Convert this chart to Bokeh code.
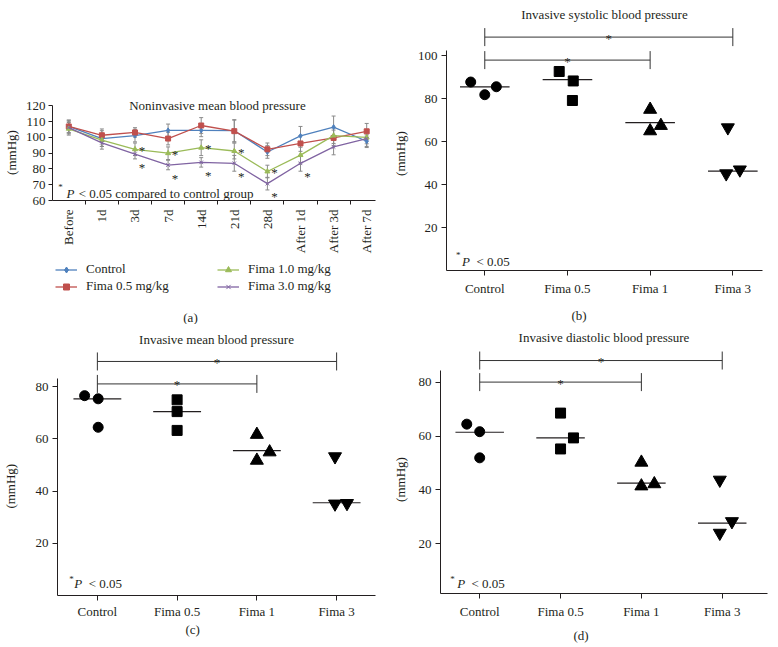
import math
from bokeh.plotting import figure
from bokeh.models import Range1d, FixedTicker, Label, Legend, LegendItem, Title
from bokeh.layouts import column, row
from bokeh.embed import file_html
from bokeh.resources import INLINE
from bokeh.core.properties import value

FONT = "Liberation Serif"
INK = "#231f20"
GREY = "#8a8a8a"
FS = "13px"
NAN = float("nan")

# ---------------- panel (a): noninvasive mean blood pressure ----------------
time_labels = ["Before", "1d", "3d", "7d", "14d", "21d", "28d", "After 1d", "After 3d", "After 7d"]
nibp_control = [107.0, 99.3, 101.2, 104.5, 104.5, 104.3, 90.8, 101.0, 106.6, 97.6]
nibp_fima05 = [107.0, 101.4, 103.2, 99.3, 107.6, 104.0, 92.5, 96.2, 99.7, 103.9]
nibp_fima10 = [105.5, 98.3, 92.5, 90.0, 93.5, 91.4, 78.4, 88.8, 101.2, 100.0]
nibp_fima30 = [106.3, 96.6, 89.4, 82.5, 84.2, 83.6, 70.7, 83.6, 94.0, 99.3]
err_control = [4, 5, 4, 4, 4, 7, 4, 6, 7, 4]
err_fima05 = [4, 4, 3, 4, 5, 7, 4, 5, 5, 5]
err_fima10 = [4, 4, 4, 4, 5, 5, 4, 5, 5, 4]
err_fima30 = [4, 4, 3, 3, 3, 5, 4, 5, 5, 5]
sig_fima10 = [0, 0, 1, 1, 1, 1, 1, 0, 0, 0]
sig_fima30 = [0, 0, 1, 1, 1, 1, 1, 1, 0, 0]
series_names = ["Control", "Fima 0.5 mg/kg", "Fima 1.0 mg/kg", "Fima 3.0 mg/kg"]
series_colors = ["#4f81bd", "#c0504d", "#9bbb59", "#8064a2"]
series_markers = ["diamond", "square", "triangle", "x"]

# ---------------- panels (b)-(d): invasive pressures ----------------
groups = ["Control", "Fima 0.5", "Fima 1", "Fima 3"]
group_markers = ["circle", "square", "triangle", "inverted_triangle"]
group_sizes = [10, 10, 13, 13]

sbp_values = [[87.7, 81.8, 85.5], [92.6, 88.2, 79.1], [74.9, 64.9, 67.4], [66.5, 45.1, 46.9]]
sbp_jitter = [[-0.17, 0.0, 0.14], [-0.10, 0.07, 0.06], [0.0, 0.0, 0.13], [-0.06, -0.08, 0.085]]
sbp_center = [85.4, 88.8, 68.8, 46.2]

mbp_values = [[76.5, 75.3, 64.4], [74.9, 70.4, 63.2], [61.6, 51.7, 54.9], [53.2, 35.1, 35.3]]
mbp_jitter = [[-0.16, 0.01, 0.01], [0.0, 0.0, 0.0], [0.0, 0.0, 0.16], [-0.02, -0.02, 0.13]]
mbp_center = [75.3, 70.4, 55.5, 35.5]

dbp_values = [[64.4, 61.6, 51.9], [68.5, 59.3, 55.2], [50.2, 41.4, 42.2], [43.7, 24.0, 28.3]]
dbp_jitter = [[-0.16, 0.0, 0.0], [0.0, 0.16, 0.0], [0.0, 0.0, 0.16], [-0.03, -0.03, 0.12]]
dbp_center = [61.4, 59.3, 42.5, 27.7]


def base(p):
    p.frame_align = False
    p.outline_line_color = None
    p.xgrid.visible = False
    p.ygrid.visible = False
    p.background_fill_color = "white"
    p.border_fill_color = "white"
    for ax in (p.xaxis, p.yaxis):
        ax.axis_line_color = INK
        ax.axis_line_width = 1
        ax.major_tick_line_color = INK
        ax.minor_tick_line_color = INK
        ax.major_tick_in = 0
        ax.minor_tick_in = 0
        ax.major_label_text_font = FONT
        ax.major_label_text_font_size = FS
        ax.major_label_text_color = INK


def lab(p, x, y, text, size=FS, align="left", baseline="alphabetic", style="normal"):
    p.add_layout(Label(x=x, y=y, text=text, text_font=FONT, text_font_size=size,
                       text_color=INK, text_align=align, text_baseline=baseline,
                       text_font_style=style))


def side_title(p, text, side, align="center", offset=0, standoff=0, valign="bottom", size=FS):
    p.add_layout(Title(text=text, align=align, offset=offset, standoff=standoff,
                       vertical_align=valign, text_font=FONT, text_font_size=size,
                       text_font_style="normal", text_color=INK), side)


def spacer(p, px, side="below"):
    side_title(p, "\u00a0", side, align="left", standoff=px, size="1px")


def y_title(p, gap, offset):
    if gap > 0:
        spacer(p, gap, "left")
    side_title(p, "(mmHg)", "left", align="left", offset=offset, standoff=0, valign="bottom")


# ---------------- panel (a) ----------------
pa = figure(width=390, height=256, x_range=Range1d(-0.492, 9.266), y_range=Range1d(60, 126),
            output_backend="svg", toolbar_location=None,
            min_border_left=52, min_border_right=15, min_border_top=96, min_border_bottom=54)
base(pa)
xs = list(range(len(time_labels)))
pa.xaxis.ticker = FixedTicker(ticks=xs, minor_ticks=[i + 0.5 for i in range(-1, len(xs))])
pa.xaxis.major_label_overrides = {i: t for i, t in enumerate(time_labels)}
pa.xaxis.major_label_orientation = math.pi / 2
pa.xaxis.major_tick_out = 0
pa.xaxis.minor_tick_out = 4
pa.xaxis.major_label_standoff = 5
pa.yaxis.ticker = FixedTicker(ticks=[60, 70, 80, 90, 100, 110, 120])
pa.yaxis.bounds = (60, 120)
pa.yaxis.major_tick_out = 4
pa.yaxis.minor_tick_line_color = None
pa.yaxis.major_label_standoff = 3
y_title(pa, 1, 25.6)

all_vals = [nibp_control, nibp_fima05, nibp_fima10, nibp_fima30]
all_errs = [err_control, err_fima05, err_fima10, err_fima30]
for vals, errs in zip(all_vals, all_errs):
    lo = [v - e for v, e in zip(vals, errs)]
    hi = [v + e for v, e in zip(vals, errs)]
    pa.segment(xs, lo, xs, hi, line_color=GREY, line_width=1)
    pa.scatter(xs, hi, marker="dash", size=4, line_color=GREY, line_width=1)
    pa.scatter(xs, lo, marker="dash", size=4, line_color=GREY, line_width=1)

for vals, col, mk in zip(all_vals, series_colors, series_markers):
    pa.line(xs, vals, line_color=col, line_width=1.3)
    pa.scatter(xs, vals, marker=mk, size=5, fill_color=col, line_color=col, line_width=1)

sx10 = [i for i, s in zip(xs, sig_fima10) if s]
sy10 = [v for v, s in zip(nibp_fima10, sig_fima10) if s]
sx30 = [i for i, s in zip(xs, sig_fima30) if s]
sy30 = [v for v, s in zip(nibp_fima30, sig_fima30) if s]
pa.text(sx10, sy10, text=["*"] * len(sx10), x_offset=7, y_offset=1, text_align="center",
        text_baseline="alphabetic", text_font=value(FONT), text_font_size=FS, text_color=INK)
pa.text(sx30, sy30, text=["*"] * len(sx30), x_offset=7, y_offset=13, text_align="center",
        text_baseline="alphabetic", text_font=value(FONT), text_font_size=FS, text_color=INK)

lab(pa, 4.49, 120.4, "Noninvasive mean blood pressure", align="center", baseline="middle")
lab(pa, -0.25, 68.7, "*", size="9px", align="center", baseline="middle")
lab(pa, -0.07, 64.4, "P", style="italic")
lab(pa, 0.30, 64.4, "< 0.05 compared to control group")

# legend strip below panel (a); legend samples use invisible (NaN) placeholder renderers
pleg = figure(width=390, height=68, x_range=Range1d(0, 390), y_range=Range1d(0, 68),
              output_backend="svg", toolbar_location=None, x_axis_location=None,
              y_axis_location=None, min_border=0, outline_line_color=None)
pleg.frame_align = False
pleg.xgrid.visible = False
pleg.ygrid.visible = False
items = []
for name, col, mk in zip(series_names, series_colors, series_markers):
    lr = pleg.line([NAN, NAN], [NAN, NAN], line_color=col, line_width=1.3)
    sr = pleg.scatter([NAN], [NAN], marker=mk, size=5, fill_color=col, line_color=col,
                      line_width=1)
    items.append(LegendItem(label=name, renderers=[lr, sr]))
for its, vx in ((items[:2], 55), (items[2:], 217)):
    lg = Legend(items=its, location=(vx, 30), orientation="vertical",
                padding=0, margin=0, spacing=1, glyph_width=22, glyph_height=15,
                label_height=15, label_standoff=9, border_line_color=None,
                background_fill_alpha=0, label_text_font=FONT, label_text_font_size=FS,
                label_text_color=INK)
    pleg.add_layout(lg, "center")
lab(pleg, 190, 7, "(a)", align="center", baseline="middle")


# ---------------- dot panels ----------------
def dot_panel(width, height, borders, xr, yr, ybounds, yticks, vals, jit, centers,
              brackets, title, title_standoff, ylab_gap, ylab_offset, stat, letter,
              letter_offset, letter_gap, xlab_standoff):
    p = figure(width=width, height=height, x_range=Range1d(*xr), y_range=Range1d(*yr),
               output_backend="svg", toolbar_location=None,
               min_border_left=borders[0], min_border_right=borders[1],
               min_border_top=borders[2], min_border_bottom=borders[3])
    base(p)
    gx = list(range(len(groups)))
    p.xaxis.ticker = FixedTicker(ticks=gx)
    p.xaxis.major_label_overrides = {i: g for i, g in enumerate(groups)}
    p.xaxis.major_tick_out = 5
    p.xaxis.minor_tick_line_color = None
    p.xaxis.major_label_standoff = xlab_standoff
    p.yaxis.ticker = FixedTicker(ticks=yticks)
    p.yaxis.bounds = ybounds
    p.yaxis.major_tick_out = 5
    p.yaxis.minor_tick_line_color = None
    p.yaxis.major_label_standoff = 4
    y_title(p, ylab_gap, ylab_offset)

    for i, (gv, gj, c, mk, sz) in enumerate(zip(vals, jit, centers, group_markers, group_sizes)):
        p.segment([i - 0.3], [c], [i + 0.3], [c], line_color=INK, line_width=1.2)
        p.scatter([i + j for j in gj], gv, marker=mk, size=sz, fill_color="black",
                  line_color="black")

    for x0, x1, yb in brackets:
        p.segment([x0], [yb], [x1], [yb], line_color="#333333", line_width=1)
        p.scatter([x0, x1], [yb, yb], marker="dash", angle=math.pi / 2, size=18,
                  line_color="#333333", line_width=1)
        p.text([(x0 + x1) / 2], [yb], text=["*"], text_align="center", text_baseline="alphabetic",
               y_offset=1, text_font=value(FONT), text_font_size=FS, text_color=INK)

    side_title(p, title, "above", align="center", standoff=title_standoff, valign="bottom")
    if letter_gap > 0:
        spacer(p, letter_gap)
    side_title(p, letter, "below", align="left", offset=letter_offset, standoff=0, valign="top")

    xs_, ys_, xp, xl, yb = stat
    lab(p, xs_, ys_, "*", size="9px", align="center", baseline="middle")
    lab(p, xp, yb, "P", style="italic")
    lab(p, xl, yb, "< 0.05")
    return p


pb = dot_panel(388, 324, (56, 16, 25, 52), (-0.463, 3.359), (0, 114.0), (0, 102.2),
               [20, 40, 60, 80, 100], sbp_values, sbp_jitter, sbp_center,
               [(0, 3, 108.6), (0, 2, 97.9)], "Invasive systolic blood pressure", 8, 4, 94.6,
               (-0.32, 7.4, -0.276, -0.10, 4.2), "(b)", 125, 6, 5)

pc = dot_panel(390, 323, (56, 15, 24, 52), (-0.5, 3.4875), (0, 94.56), (0, 83),
               [20, 40, 60, 80], mbp_values, mbp_jitter, mbp_center,
               [(0, 3, 89.6), (0, 2, 81.0)], "Invasive mean blood pressure", 3, 12, 86.9,
               (-0.325, 6.5, -0.291, -0.109, 4.5), "(c)", 128, 0, 3)

pd_ = dot_panel(388, 323, (49, 11, 24, 54), (-0.485, 3.56), (1.56, 92.47), (1.56, 84.3),
                [20, 40, 60, 80], dbp_values, dbp_jitter, dbp_center,
                [(0, 3, 88.0), (0, 2, 80.0)], "Invasive diastolic blood pressure", 7, 5, 91.6,
                (-0.337, 7.1, -0.279, -0.102, 5.2), "(d)", 133, 3, 5)

layout = column(row(column(pa, pleg), pb), row(pc, pd_))
open("out.html", "w").write(file_html(layout, INLINE))
